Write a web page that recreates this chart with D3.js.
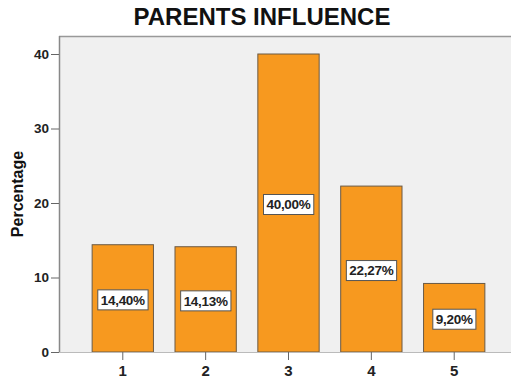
<!DOCTYPE html>
<html>
<head>
<meta charset="utf-8">
<script src="https://cdn.jsdelivr.net/npm/d3@7"></script>
<style>
  body { margin: 0; background: #fff; }
  svg { display: block; font-family: "Liberation Sans", Arial, sans-serif; }
</style>
</head>
<body>
<div id="chart"></div>
<script>
// Data
const categories = ["1", "2", "3", "4", "5"];
const percentages = [14.40, 14.13, 40.00, 22.27, 9.20];
const yTicks = [0, 10, 20, 30, 40];

// Dimensions
const dimensions = { width: 511, height: 381, left: 59, top: 36, bottom: 352, right: 518 };

const svg = d3.select("#chart")
  .append("svg")
  .attr("width", dimensions.width)
  .attr("height", dimensions.height);

// Scales
const xScale = d3.scaleBand()
  .domain(categories)
  .range([dimensions.left, dimensions.right])
  .paddingInner(0.26)
  .paddingOuter(0.4);

const yScale = d3.scaleLinear()
  .domain([0, 40])
  .range([dimensions.bottom, dimensions.bottom - 298]);

// Plot background
svg.append("rect")
  .attr("x", dimensions.left)
  .attr("y", dimensions.top)
  .attr("width", dimensions.width - dimensions.left)
  .attr("height", dimensions.bottom - dimensions.top)
  .attr("fill", "#f0f0f0");

svg.append("line")
  .attr("x1", dimensions.left).attr("x2", dimensions.width)
  .attr("y1", dimensions.top + 0.5).attr("y2", dimensions.top + 0.5)
  .attr("stroke", "#999").attr("stroke-width", 1.5);

// Bars
const data = categories.map((c, i) => ({ cat: c, value: percentages[i] }));

svg.append("g")
  .selectAll("rect")
  .data(data)
  .join("rect")
  .attr("x", d => xScale(d.cat))
  .attr("y", d => yScale(d.value))
  .attr("width", xScale.bandwidth())
  .attr("height", d => yScale(0) - yScale(d.value))
  .attr("fill", "#f7991f")
  .attr("stroke", "#6b5a45")
  .attr("stroke-width", 1);

// Value labels
const fmt = v => v.toFixed(2).replace(".", ",") + "%";
const labels = svg.append("g")
  .selectAll("g")
  .data(data)
  .join("g")
  .attr("transform", d => `translate(${xScale(d.cat) + xScale.bandwidth() / 2}, ${(yScale(0) + yScale(d.value)) / 2 + 1.5})`);

labels.append("text")
  .attr("text-anchor", "middle")
  .attr("dy", "0.35em")
  .attr("font-size", 13.5)
  .attr("font-weight", "bold")
  .attr("letter-spacing", -0.3)
  .attr("fill", "#222")
  .text(d => fmt(d.value));

labels.each(function () {
  const g = d3.select(this);
  const bb = g.select("text").node().getBBox();
  g.insert("rect", "text")
    .attr("x", bb.x - 3)
    .attr("y", -10)
    .attr("width", bb.width + 6)
    .attr("height", 20)
    .attr("fill", "#fff")
    .attr("stroke", "#555")
    .attr("stroke-width", 1);
});

// Axes
const yAxis = d3.axisLeft(yScale).tickValues(yTicks).tickSize(8).tickSizeOuter(0).tickPadding(2);
const yG = svg.append("g")
  .attr("transform", `translate(${dimensions.left}, 0)`)
  .call(yAxis);
yG.select(".domain").attr("stroke", "#888").attr("stroke-width", 1.5)
  .attr("d", `M0.5,${dimensions.top}V${dimensions.bottom}`);
yG.selectAll(".tick line").attr("stroke", "#666");
yG.selectAll(".tick text")
  .attr("font-size", 13.5).attr("font-weight", "bold").attr("fill", "#222")
  .style("font-family", "'Liberation Sans', Arial, sans-serif");

const xAxis = d3.axisBottom(xScale).tickSize(8).tickSizeOuter(0).tickPadding(5);
const xG = svg.append("g")
  .attr("transform", `translate(0, ${dimensions.bottom})`)
  .call(xAxis);
xG.select(".domain").attr("stroke", "#bbb")
  .attr("d", `M${dimensions.left},0.5H${dimensions.width}`);
xG.selectAll(".tick line").attr("stroke", "#666");
xG.selectAll(".tick text")
  .attr("font-size", 15).attr("font-weight", "bold").attr("fill", "#222")
  .style("font-family", "'Liberation Sans', Arial, sans-serif");

// Titles
svg.append("text")
  .attr("x", 262)
  .attr("y", 25)
  .attr("text-anchor", "middle")
  .attr("font-size", 24)
  .attr("font-weight", "bold")
  .attr("fill", "#111")
  .text("PARENTS INFLUENCE");

svg.append("text")
  .attr("transform", `translate(23, 194) rotate(-90)`)
  .attr("text-anchor", "middle")
  .attr("font-size", 16)
  .attr("font-weight", "bold")
  .attr("fill", "#111")
  .text("Percentage");
</script>
</body>
</html>
